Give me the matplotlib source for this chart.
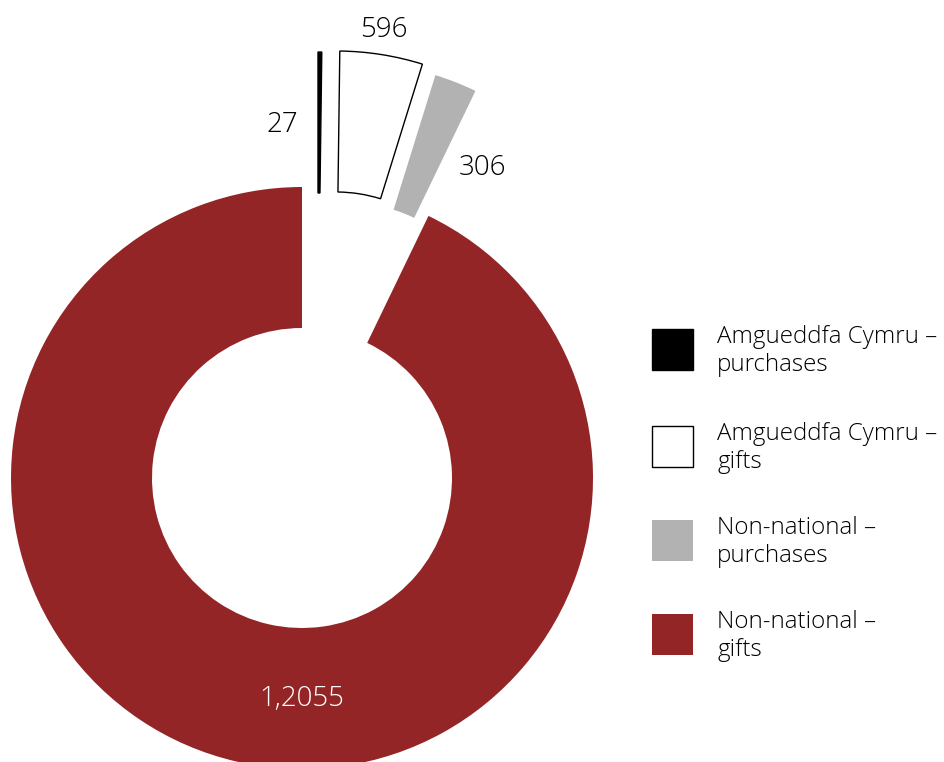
import matplotlib.pyplot as plt
from matplotlib.patches import Rectangle

# acquisitions by source
labels = ["Amgueddfa Cymru –\npurchases", "Amgueddfa Cymru –\ngifts",
          "Non-national –\npurchases", "Non-national –\ngifts"]
values = [27, 596, 306, 12055]
value_text = ["27", "596", "306", "1,2055"]
colors = ["black", "white", "#b2b2b2", "#932527"]

plt.rcParams['font.family'] = ['Open Sans', 'DejaVu Sans']

fig = plt.figure(figsize=(9.44, 7.62), dpi=100)
ax = fig.add_axes([0, 0, 1, 1])

cx, cy, r = 302, 284, 291
wedges, _ = ax.pie(values, colors=colors, startangle=90, counterclock=False,
                   center=(cx, cy), radius=r,
                   wedgeprops=dict(width=141, linewidth=0))

# pull the three small slices out of the ring
shifts = [(16, 135), (34, 136), (47, 125), (0, 0)]
for w, (dx, dy) in zip(wedges, shifts):
    w.set_center((cx + dx, cy + dy))
# outline the white slice, thicken the hairline black one a bit
for w in wedges[:2]:
    w.set_edgecolor("black")
    w.set_linewidth(1.0)

# value labels
label_pos = [(282, 637), (384, 732), (482, 594), (302, 63)]
label_col = ["black", "black", "black", "white"]
for txt, (x, y), c in zip(value_text, label_pos, label_col):
    ax.text(x, y, txt, ha="center", va="center", fontsize=20,
            color=c, fontweight="light")

# legend drawn by hand: square + two-line label per row
key_tops = [433, 336, 242, 148]
for w, lab, top in zip(wedges, labels, key_tops):
    ax.add_patch(Rectangle((652, top - 41), 41, 41, facecolor=w.get_facecolor(),
                           edgecolor="black" if w.get_linewidth() > 0 else "none",
                           linewidth=1.0))
    ax.text(717, top + 4, lab, ha="left", va="top", fontsize=17.4,
            fontweight="light", linespacing=1.2)

ax.set_aspect("equal")
ax.set_xlim(0, 944)
ax.set_ylim(0, 762)
ax.axis("off")

fig.savefig("out.png", dpi=100)
